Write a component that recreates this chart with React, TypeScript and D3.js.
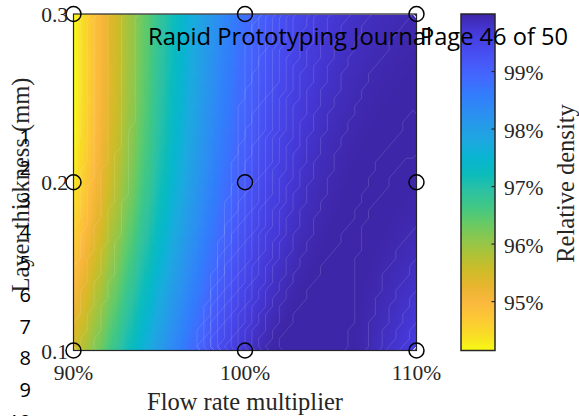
import React, { useMemo } from "react";
import * as d3 from "d3";

// Measured relative density (%) at each flow-rate multiplier, one array per layer thickness
const flowRates = [90, 100, 110];
const layerThicknesses = [0.1, 0.2, 0.3];
const densityAt010 = [95.5, 99.75, 99.6];
const densityAt020 = [94.3, 99.15, 100.0];
const densityAt030 = [94.15, 98.8, 99.95];

const flowTicks = [90, 100, 110];
const thicknessTicks = [0.1, 0.2, 0.3];
const densityTicks = [95, 96, 97, 98, 99];
const densityExtent = [94.15, 100];

// Parula colour map, reversed so that the densest parts are darkest (first = 100 %)
const parulaColors = [
  "#3e26a8", "#4537d5", "#4747eb", "#4758f8", "#4269fe", "#327cfc", "#2d8cf3",
  "#259be8", "#1ca9df", "#08b5d0", "#0bbcbb", "#2cc1a3", "#3fc786", "#64ca67",
  "#8bc74e", "#aec238", "#cebc28", "#e8b52f", "#fbb83e", "#fcc835", "#f9dc26", "#f8fa15",
];

// Levels of the faint rendering seams drawn over the surface
const seamLevels = [94.3, 94.6, 94.9, 95.3, 95.7, 96.1,
  98.9, 98.98, 99.06, 99.14, 99.22, 99.3, 99.38, 99.46, 99.54, 99.62, 99.7, 99.78, 99.86, 99.94, 100.02];

const pageLineNumbers = ["1", "2", "3", "4", "5", "6", "7", "8", "9", "10"];
const journalName = "Rapid Prototyping Journal";
const pageLabel = "Page 46 of 50";

const W = 579;
const H = 416;
const plot = { left: 73.5, right: 416.5, top: 14, bottom: 350.5 };
const bar = { left: 461, right: 495, top: 14, bottom: 350.5 };

const serif = "'Liberation Serif', 'Times New Roman', serif";
const sans = "'Open Sans', 'Noto Sans', sans-serif";
const axisColor = "#262626";

const densityRows = [densityAt010, densityAt020, densityAt030];

// Natural cubic spline through three equally spaced nodes at t = -1, 0, 1
function spline3(v: number[], t: number): number {
  const m = 1.5 * (v[0] - 2 * v[1] + v[2]);
  if (t <= 0) {
    const s = t + 1;
    return (1 - s) * v[0] + s * v[1] + (m / 6) * (s * s * s - s);
  }
  const r = 1 - t;
  return r * v[1] + t * v[2] + (m / 6) * (r * r * r - r);
}

// Tensor-product spline surface: along flow rate for each layer, then across layers
function densityAt(flow: number, thickness: number): number {
  const u = (flow - flowRates[1]) / (flowRates[1] - flowRates[0]);
  const w = (thickness - layerThicknesses[1]) / (layerThicknesses[1] - layerThicknesses[0]);
  return spline3(densityRows.map((row) => spline3(row, u)), w);
}

export default function App() {
  const x = d3.scaleLinear().domain([90, 110]).range([plot.left, plot.right]);
  const y = d3.scaleLinear().domain([0.1, 0.3]).range([plot.bottom, plot.top]);
  const cbY = d3.scaleLinear().domain(densityExtent).range([bar.bottom, bar.top]);
  const stopValues = parulaColors.map(
    (_, i) => densityExtent[1] - (i / (parulaColors.length - 1)) * (densityExtent[1] - densityExtent[0])
  );
  const color = d3
    .scaleLinear<string>()
    .domain(stopValues.slice().reverse())
    .range(parulaColors.slice().reverse())
    .interpolate(d3.interpolateRgb)
    .clamp(true);

  const cells = useMemo(() => {
    const nx = 150;
    const ny = 150;
    const out: { x: number; y: number; w: number; h: number; c: string }[] = [];
    const fx = d3.scaleLinear().domain([0, nx]).range(x.domain());
    const fy = d3.scaleLinear().domain([0, ny]).range([0.3, 0.1]);
    for (let j = 0; j < ny; j++) {
      for (let i = 0; i < nx; i++) {
        const x0 = x(fx(i));
        const x1 = x(fx(i + 1));
        const y0 = y(fy(j));
        const y1 = y(fy(j + 1));
        out.push({
          x: x0,
          y: y0,
          w: x1 - x0 + 0.4,
          h: y1 - y0 + 0.4,
          c: color(densityAt(fx(i + 0.5), fy(j + 0.5))),
        });
      }
    }
    return out;
  }, []);

  const seams = useMemo(() => {
    const gx = 50;
    const gy = 42;
    const vals: number[] = new Array(gx * gy);
    const fx = d3.scaleLinear().domain([0, gx]).range([90, 110]);
    const fy = d3.scaleLinear().domain([0, gy]).range([0.3, 0.1]);
    for (let j = 0; j < gy; j++)
      for (let i = 0; i < gx; i++) vals[j * gx + i] = densityAt(fx(i + 0.5), fy(j + 0.5));
    const contours = d3.contours().size([gx, gy]).smooth(false).thresholds(seamLevels)(vals);
    const sx = (plot.right - plot.left) / gx;
    const sy = (plot.bottom - plot.top) / gy;
    const proj = d3.geoTransform({
      point(px: number, py: number) {
        this.stream.point(plot.left + px * sx, plot.top + py * sy);
      },
    });
    const path = d3.geoPath(proj);
    return contours.map((c) => path(c) || "");
  }, []);

  // gradient stops from the bottom (lowest density) to the top
  const stops = stopValues
    .map((v, i) => ({
      offset: (v - densityExtent[0]) / (densityExtent[1] - densityExtent[0]),
      c: parulaColors[i],
    }))
    .reverse();

  const lineNumberBaseline = d3.scaleLinear().domain([1, 4]).range([143.5, 238.6]);

  return (
    <svg
      width={W}
      height={H}
      viewBox={`0 0 ${W} ${H}`}
      style={{ position: "absolute", left: 0, top: 0, background: "#fff" }}
    >
      <defs>
        <linearGradient id="cbGrad" x1="0" y1="1" x2="0" y2="0">
          {stops.map((s, i) => (
            <stop key={i} offset={s.offset} stopColor={s.c} />
          ))}
        </linearGradient>
        <clipPath id="plotClip">
          <rect x={plot.left} y={plot.top} width={plot.right - plot.left} height={plot.bottom - plot.top} />
        </clipPath>
      </defs>

      {/* density surface */}
      <g clipPath="url(#plotClip)" shapeRendering="crispEdges">
        {cells.map((d, i) => (
          <rect key={i} x={d.x} y={d.y} width={d.w} height={d.h} fill={d.c} />
        ))}
      </g>
      <g clipPath="url(#plotClip)" fill="none" stroke="#ffffff" strokeOpacity={0.15} strokeWidth={0.9}>
        {seams.map((p, i) => (
          <path key={i} d={p} />
        ))}
      </g>

      {/* axes box */}
      <rect
        x={plot.left}
        y={plot.top}
        width={plot.right - plot.left}
        height={plot.bottom - plot.top}
        fill="none"
        stroke={axisColor}
        strokeWidth={1.2}
      />

      {/* measured points */}
      <g fill="none" stroke="#000" strokeWidth={1.5}>
        {layerThicknesses.map((t) =>
          flowRates.map((f) => <circle key={`${f}-${t}`} cx={x(f)} cy={y(t)} r={7.5} />)
        )}
      </g>

      {/* tick labels */}
      <g fontFamily={serif} fontSize={21.5} fill={axisColor}>
        {thicknessTicks.map((t) => (
          <text key={t} x={68} y={y(t) + 8} textAnchor="end">
            {t.toFixed(1)}
          </text>
        ))}
        {flowTicks.map((f) => (
          <text key={f} x={x(f)} y={379.5} textAnchor="middle">
            {`${f}%`}
          </text>
        ))}
      </g>
      <text x={245} y={410} textAnchor="middle" fontFamily={serif} fontSize={24.5} fill={axisColor}>
        Flow rate multiplier
      </text>
      <text
        transform="translate(29,185) rotate(-90)"
        textAnchor="middle"
        fontFamily={serif}
        fontSize={24.5}
        fill={axisColor}
      >
        Layer thickness (mm)
      </text>

      {/* colour bar */}
      <rect
        x={bar.left}
        y={bar.top}
        width={bar.right - bar.left}
        height={bar.bottom - bar.top}
        fill="url(#cbGrad)"
        stroke={axisColor}
        strokeWidth={1.5}
      />
      <g stroke={axisColor} strokeWidth={1.2}>
        {densityTicks.map((d) => (
          <line key={d} x1={bar.right - 3.5} x2={bar.right} y1={cbY(d)} y2={cbY(d)} />
        ))}
      </g>
      <g fontFamily={serif} fontSize={21.5} fill={axisColor}>
        {densityTicks.map((d) => (
          <text key={d} x={504} y={cbY(d) + 8.5}>
            {`${d}%`}
          </text>
        ))}
      </g>
      <text
        transform="translate(574,183.5) rotate(-90)"
        textAnchor="middle"
        fontFamily={serif}
        fontSize={24.5}
        fill={axisColor}
      >
        Relative density
      </text>

      {/* page header and line numbers */}
      <g fontFamily={sans} fontSize={23} fill="#000">
        <text x={148} y={45} textLength={284} lengthAdjust="spacingAndGlyphs">
          {journalName}
        </text>
        <text x={420} y={45} textLength={148} lengthAdjust="spacingAndGlyphs">
          {pageLabel}
        </text>
      </g>
      <g fontFamily={sans} fontSize={20} fill="#000">
        {pageLineNumbers.map((n, i) => (
          <text key={n} x={31} y={lineNumberBaseline(i + 1)} textAnchor="end">
            {n}
          </text>
        ))}
      </g>
    </svg>
  );
}
